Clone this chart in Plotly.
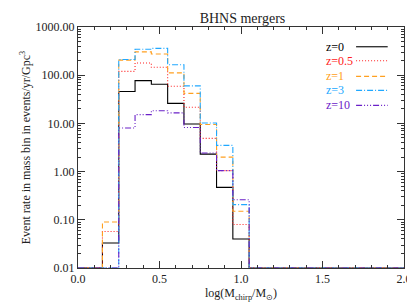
import numpy as np
import plotly.graph_objects as go

# Bin centres in log(Mchirp/Msun), width 0.1
bin_centers = [0.2, 0.3, 0.4, 0.5, 0.6, 0.7, 0.8, 0.9, 1.0]
bin_width = 0.1

z0 = [0.033, 46, 77, 65, 26, 9.7, 2.3, 0.47, 0.04]
z05 = [0.057, 120, 179, 146, 59, 21.7, 4.9, 1.05, 0.08]
z1 = [0.09, 205, 305, 276, 112, 42, 9.5, 2.0, 0.15]
z3 = [0.0, 212, 345, 360, 165, 60, 10.2, 3.5, 0.206]
z10 = [0.0, 8.0, 15.2, 18.3, 16.5, 8.2, 2.44, 1.05, 0.26]

series_names = ["z=0", "z=0.5", "z=1", "z=3", "z=10"]
series_vals = [z0, z05, z1, z3, z10]
colors = ["#000000", "#FF2020", "#FFA020", "#20A8FF", "#6A20C8"]
dashes = ["solid", "1px,2px", "5px,3px", "6px,2px,1px,2px",
          "6px,2px,1px,2px,1px,2px,1px,2px"]

y_ticks = [0.01, 0.1, 1, 10, 100, 1000]
y_ticktext = ["0.01", "0.10", "1.00", "10.00", "100.00", "1000.00"]
x_ticks = [0.0, 0.5, 1.0, 1.5, 2.0]
x_ticktext = ["0.0", "0.5", "1.0", "1.5", "2.0"]

XMIN, XMAX = 0.0, 2.0
YMIN, YMAX = 0.01, 1000

FONT = "Liberation Serif"

def step(vals):
    xs = [XMIN, bin_centers[0] - bin_width / 2]
    ys = [YMIN, YMIN]
    for c, v in zip(bin_centers, vals):
        v = max(v, YMIN)
        xs += [c - bin_width / 2, c + bin_width / 2]
        ys += [v, v]
    xs += [bin_centers[-1] + bin_width / 2, XMAX]
    ys += [YMIN, YMIN]
    return xs, ys

fig = go.Figure()
for name, vals, col, dash in zip(series_names, series_vals, colors, dashes):
    xs, ys = step(vals)
    fig.add_trace(go.Scatter(x=xs, y=ys, mode="lines", name=name,
                             line=dict(color=col, width=1.1, dash=dash),
                             cliponaxis=False, showlegend=False))

# legend drawn manually (text left, line sample right)
leg_y = [0.918, 0.860, 0.795, 0.737, 0.675]
for name, col, dash, yy in zip(series_names, colors, dashes, leg_y):
    fig.add_annotation(xref="paper", yref="paper", x=0.755, y=yy, text=name,
                       showarrow=False, xanchor="left", yanchor="middle",
                       font=dict(family=FONT, size=12, color=col))
    fig.add_shape(type="line", xref="paper", yref="paper",
                  x0=0.853, x1=0.95, y0=yy, y1=yy,
                  line=dict(color=col, width=1.1, dash=dash))

minor_y = [m * 10.0 ** e for e in range(-2, 3) for m in range(2, 10)]

axis_common = dict(showline=True, linecolor="#333333", linewidth=1, mirror="ticks",
                   ticks="inside", tickcolor="#333333", showgrid=False, zeroline=False,
                   tickfont=dict(family=FONT, size=12, color="#222222"))

fig.update_xaxes(range=[XMIN, XMAX], tickmode="array", tickvals=x_ticks, ticktext=x_ticktext,
                 ticklen=7, tickwidth=1,
                 minor=dict(ticks="inside", ticklen=3, dtick=0.1, tick0=0, tickcolor="#333333"),
                 title=dict(text="log(M<sub>chirp</sub>/M<sub>⊙</sub>)",
                            font=dict(family=FONT, size=12, color="#222222"), standoff=2),
                 **axis_common)
fig.update_yaxes(type="log", range=[np.log10(YMIN), np.log10(YMAX)], tickmode="array",
                 tickvals=y_ticks, ticktext=y_ticktext, ticklen=7, tickwidth=1,
                 minor=dict(ticks="inside", ticklen=3, tickmode="array", tickvals=minor_y,
                            tickcolor="#333333"),
                 title=dict(text="Event rate in mass bin in events/yr/Gpc<sup>3</sup>",
                            font=dict(family=FONT, size=12, color="#222222"), standoff=2),
                 **axis_common)

fig.update_layout(
    width=415, height=302,
    margin=dict(l=70, r=19, t=19, b=42),
    paper_bgcolor="white", plot_bgcolor="white",
    title=dict(text="BHNS mergers", x=0.565, xanchor="center", y=0.965, yanchor="middle",
               font=dict(family=FONT, size=14, color="#222222")),
    showlegend=False,
)

fig.write_html("out.html")
